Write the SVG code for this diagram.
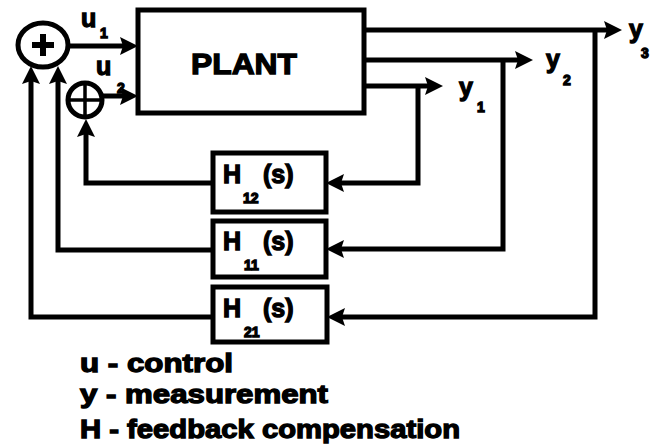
<svg xmlns="http://www.w3.org/2000/svg" width="652" height="447" viewBox="0 0 652 447">
<style>
.ln{fill:none;stroke:#000;stroke-width:5;stroke-linejoin:miter}
.bx{fill:#fff;stroke:#000;stroke-width:5}
.t{font-family:"Liberation Sans",Arial,sans-serif;font-weight:bold;fill:#000;stroke:#000;stroke-width:1.3}
.big{font-size:25px}
.sub{font-size:14px}
.leg{font-size:26px}
</style>
<defs>
<marker id="ah" markerUnits="userSpaceOnUse" markerWidth="19" markerHeight="19" refX="12" refY="9" orient="auto">
<path d="M0,0 L18,9 L0,18 L3,9 z" fill="#000"/>
</marker>
</defs>
<g id="connectors">
<path class="ln" d="M68,46 H132" marker-end="url(#ah)"/>
<path class="ln" d="M102,96 H132" marker-end="url(#ah)"/>
<path class="ln" d="M364,30 H616" marker-end="url(#ah)"/>
<path class="ln" d="M364,60 H527" marker-end="url(#ah)"/>
<path class="ln" d="M364,86 H437" marker-end="url(#ah)"/>
<path class="ln" d="M418,86 V183 H332" marker-end="url(#ah)"/>
<path class="ln" d="M503,60 V249 H332" marker-end="url(#ah)"/>
<path class="ln" d="M595,30 V317 H333" marker-end="url(#ah)"/>
<path class="ln" d="M213,183 H86 V125" marker-end="url(#ah)"/>
<path class="ln" d="M213,250 H58 V72" marker-end="url(#ah)"/>
<path class="ln" d="M213,317 H31 V72" marker-end="url(#ah)"/>
</g>
<g id="sum1">
<ellipse cx="43" cy="45" rx="25" ry="22" class="bx"/>
<path d="M43,34 V56 M32,45 H54" stroke="#000" stroke-width="6" fill="none"/>
</g>
<g id="sum2">
<circle cx="85" cy="100" r="17" class="bx"/>
<path d="M85,83 V117 M68,100 H102" stroke="#000" stroke-width="3.5" fill="none"/>
</g>
<g id="plant">
<rect x="138" y="10" width="226" height="103" class="bx"/>
<text x="244" y="74" text-anchor="middle" class="t" font-size="30" textLength="106" lengthAdjust="spacingAndGlyphs" stroke-width="2.5">PLANT</text>
</g>
<g id="H12">
<rect x="213" y="153" width="113" height="59" class="bx"/>
<text x="223" y="183" class="t big">H</text>
<text x="243" y="203" class="t sub">12</text>
<text x="263" y="183" class="t big">(s)</text>
</g>
<g id="H11">
<rect x="213" y="221" width="113" height="56" class="bx"/>
<text x="223" y="250" class="t big">H</text>
<text x="244" y="270" class="t sub">11</text>
<text x="263" y="250" class="t big">(s)</text>
</g>
<g id="H21">
<rect x="213" y="287" width="114" height="55" class="bx"/>
<text x="223" y="317" class="t big">H</text>
<text x="244" y="337" class="t sub">21</text>
<text x="263" y="317" class="t big">(s)</text>
</g>
<g id="labels">
<text x="81" y="27" class="t big">u</text>
<text x="100" y="38" class="t sub">1</text>
<text x="96" y="75" class="t big">u</text>
<text x="117" y="93" class="t sub">2</text>
<text x="459" y="96" class="t big">y</text>
<text x="477" y="112" class="t sub">1</text>
<text x="546" y="68" class="t big">y</text>
<text x="563" y="85" class="t sub">2</text>
<text x="629" y="38" class="t big">y</text>
<text x="641" y="58" class="t sub">3</text>
</g>
<g id="legend">
<text x="80" y="372" class="t leg" textLength="153" lengthAdjust="spacingAndGlyphs">u - control</text>
<text x="80" y="403" class="t leg" textLength="248" lengthAdjust="spacingAndGlyphs">y - measurement</text>
<text x="80" y="438" class="t leg" textLength="380" lengthAdjust="spacingAndGlyphs">H - feedback compensation</text>
</g>
</svg>
